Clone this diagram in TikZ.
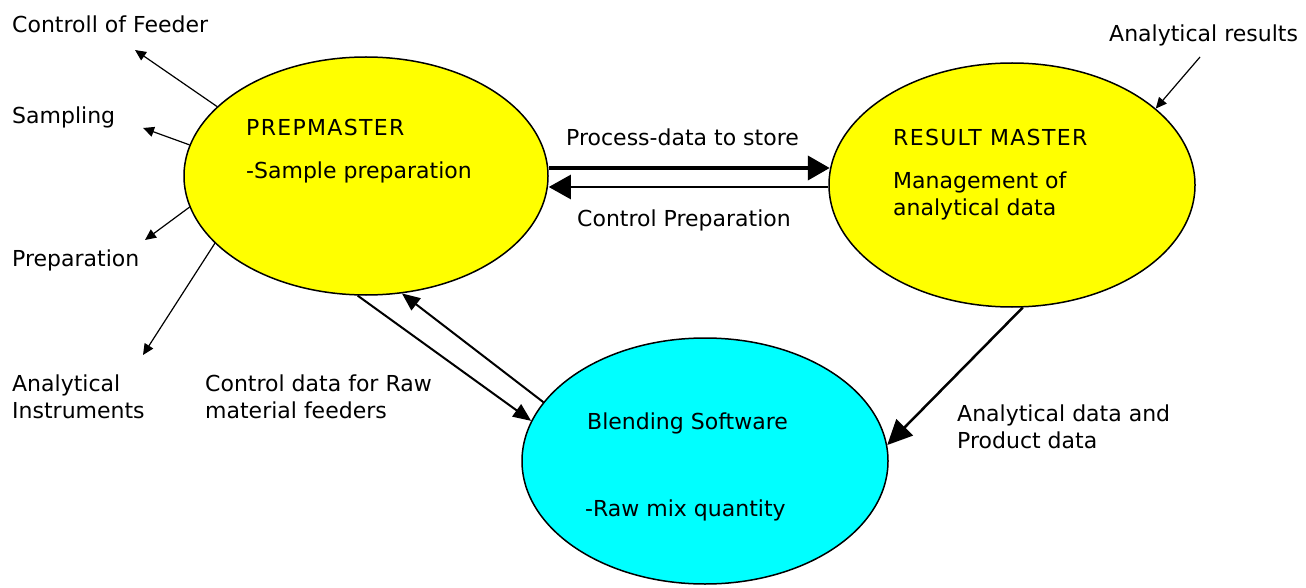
\documentclass[tikz,border=0pt]{standalone}
\usepackage{fontspec}
\setmainfont{DejaVu Sans}
\usetikzlibrary{arrows.meta,shapes.geometric,calc}
\definecolor{pureyellow}{RGB}{255,255,0}
\definecolor{purecyan}{RGB}{0,255,255}
\newcommand{\spc}[1]{\addfontfeatures{LetterSpace=#1}}
\begin{document}
\begin{tikzpicture}[x=1pt,y=-1pt,
  blob/.style={ellipse, draw=black, line width=1.5pt, inner sep=0pt},
  lbl/.style={anchor=west, inner sep=0pt, align=left, font=\fontsize{22}{27}\selectfont},
  thinarrow/.style={-{Triangle[length=11pt,width=10pt]}, line width=1.2pt},
  bigarrow/.style={-{Triangle[length=22pt,width=24pt]}, line width=4pt},
  midarrow/.style={-{Triangle[length=22pt,width=24pt]}, line width=2.4pt},
  linkarrow/.style={-{Triangle[length=18pt,width=15pt]}, line width=2pt},
  dataarrow/.style={-{Triangle[length=25pt,width=23pt]}, line width=2.5pt}]
\useasboundingbox (0,0) rectangle (1306,588);
\fill[white] (0,0) rectangle (1306,588);

% ellipses
\node[blob, fill=pureyellow, minimum width=364pt, minimum height=238pt] (pm) at (366,176) {};
\node[blob, fill=pureyellow, minimum width=366pt, minimum height=244pt] (rm) at (1012,185) {};
\node[blob, fill=purecyan, minimum width=366pt, minimum height=246pt] (bl) at (705,461) {};

% texts inside
\node[lbl] (pmt) at (246,127) {\spc{6}PREPMASTER};
\node[lbl] (pms) at (246,172) {-Sample preparation};
\node[lbl] (rmt) at (893,137) {\spc{6}RESULT MASTER};
\node[lbl] (rms) at (893,196) {Management of\\analytical data};
\node[lbl] (blt) at (587,423) {Blending Software};
\node[lbl] (bls) at (585,510) {-Raw mix quantity};

% outside labels
\node[lbl] (l1) at (12,24) {Controll of Feeder};
\node[lbl] (l2) at (12,117) {Sampling};
\node[lbl] (l3) at (12,260) {Preparation};
\node[lbl] (l4) at (12,397) {Analytical\\Instruments};
\node[lbl] (l5) at (205,397) {Control data for Raw\\material feeders};
\node[lbl] (l6) at (566,137) {Process-data to store};
\node[lbl] (l7) at (577,220) {Control Preparation};
\node[lbl] (l8) at (1109,35) {Analytical results};
\node[lbl] (l9) at (957,427) {Analytical data and\\Product data};

% free ends
\coordinate (c1) at (135,50);
\coordinate (c2) at (143,128);
\coordinate (c3) at (145,240);
\coordinate (c4) at (143,355);
\coordinate (c5) at (1200,57);

% outgoing arrows of PREPMASTER
\draw[thinarrow] (pm.155.6) -- (c1);
\draw[thinarrow] (pm.170.6) -- (c2);
\draw[thinarrow] (pm.190.5) -- (c3);
\draw[thinarrow] (pm.204.4) -- (c4);

% analytical results into RESULT MASTER
\draw[thinarrow] (c5) -- (rm.28);

% PREPMASTER <-> RESULT MASTER
\draw[bigarrow] ($(pm.east)+(0,-8)$) -- ($(rm.west)+(1.5,-17)$);
\draw[midarrow] ($(rm.west)+(0,2)$) -- ($(pm.east)+(0,11)$);

% PREPMASTER <-> Blending
\draw[linkarrow] (pm.266) -- (bl.167.3);
\draw[linkarrow] (bl.160) -- (pm.287.9);

% RESULT MASTER -> Blending
\draw[dataarrow] (rm.275) -- (bl.5);
\end{tikzpicture}
\end{document}
